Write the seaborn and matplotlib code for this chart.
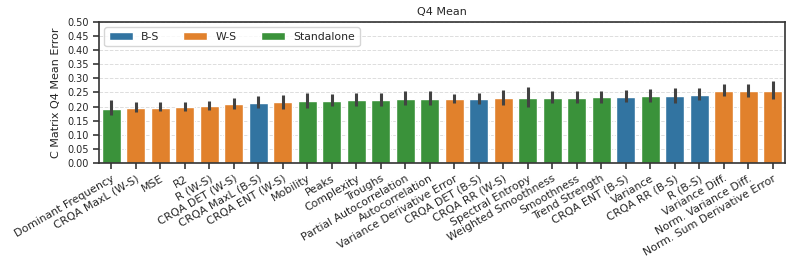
import numpy as np
import pandas as pd
import matplotlib
matplotlib.use('Agg')
import matplotlib.pyplot as plt
import seaborn as sns

# data
features = ['Dominant Frequency', 'CRQA MaxL (W-S)', 'MSE', 'R2', 'R (W-S)',
            'CRQA DET (W-S)', 'CRQA MaxL (B-S)', 'CRQA ENT (W-S)', 'Mobility',
            'Peaks', 'Complexity', 'Troughs', 'Partial Autocorrelation',
            'Autocorrelation', 'Variance Derivative Error', 'CRQA DET (B-S)',
            'CRQA RR (W-S)', 'Spectral Entropy', 'Weighted Smoothness',
            'Smoothness', 'Trend Strength', 'CRQA ENT (B-S)', 'Variance',
            'CRQA RR (B-S)', 'R (B-S)', 'Variance Diff.', 'Norm. Variance Diff.',
            'Norm. Sum Derivative Error']
groups = ['Standalone', 'W-S', 'W-S', 'W-S', 'W-S',
          'W-S', 'B-S', 'W-S', 'Standalone',
          'Standalone', 'Standalone', 'Standalone', 'Standalone',
          'Standalone', 'W-S', 'B-S',
          'W-S', 'Standalone', 'Standalone',
          'Standalone', 'Standalone', 'B-S', 'Standalone',
          'B-S', 'B-S', 'W-S', 'W-S',
          'W-S']
mean_err = [0.193, 0.195, 0.196, 0.199, 0.202, 0.209, 0.214, 0.215, 0.219,
            0.221, 0.2225, 0.2225, 0.227, 0.227, 0.227, 0.2285, 0.2296, 0.231,
            0.232, 0.232, 0.2345, 0.2345, 0.237, 0.237, 0.2415, 0.2535, 0.2546,
            0.257]
ci_low = [0.169, 0.181, 0.183, 0.184, 0.189, 0.191, 0.194, 0.193, 0.196,
          0.202, 0.2035, 0.2035, 0.2045, 0.2057, 0.213, 0.208, 0.2046, 0.200,
          0.211, 0.211, 0.213, 0.2165, 0.2155, 0.212, 0.2225, 0.237, 0.233,
          0.226]
ci_high = [0.225, 0.218, 0.2165, 0.218, 0.219, 0.231, 0.239, 0.241, 0.249,
           0.246, 0.249, 0.2475, 0.256, 0.256, 0.246, 0.249, 0.259, 0.268,
           0.257, 0.257, 0.257, 0.258, 0.261, 0.265, 0.265, 0.2785, 0.2796,
           0.291]

df = pd.DataFrame({'feature': features, 'group': groups, 'value': mean_err,
                   'lo': ci_low, 'hi': ci_high})

sns.set_style('ticks')
plt.rcParams['font.family'] = ['DejaVu Sans']
plt.rcParams['axes.edgecolor'] = '#333333'
plt.rcParams['axes.linewidth'] = 1.2

pal = dict(zip(['B-S', 'W-S', 'Standalone'], sns.color_palette('tab10', 3)))

fig, ax = plt.subplots(figsize=(7.92, 2.65), dpi=100)
ax.set_axisbelow(True)
ax.yaxis.grid(True, linestyle='--', color='#dddddd', linewidth=0.7)

sns.barplot(data=df, x='feature', y='value', hue='group',
            hue_order=['B-S', 'W-S', 'Standalone'], palette=pal,
            dodge=False, errorbar=None, width=0.78, ax=ax)

x = np.arange(len(df))
ax.errorbar(x, df['value'], yerr=[df['value'] - df['lo'], df['hi'] - df['value']],
            fmt='none', ecolor='#424242', elinewidth=2.2, capsize=0, zorder=5)

ax.set_ylim(0, 0.5)
ax.set_yticks(np.arange(0, 0.51, 0.05))
ax.set_xlim(-0.5, len(df) - 0.5)
ax.set_title('Q4 Mean', fontsize=8, pad=5)
ax.set_xlabel('')
ax.set_ylabel('C Matrix Q4 Mean Error', fontsize=8)
ax.tick_params(axis='y', labelsize=7, width=1.1, length=4)
ax.tick_params(axis='x', labelsize=7.8, width=1.1, length=4)
plt.setp(ax.get_xticklabels(), rotation=30, ha='right', rotation_mode='anchor')
ax.legend(loc='upper left', ncol=3, fontsize=7.8, title=None, frameon=True,
          columnspacing=2.2, handlelength=2.2)

fig.subplots_adjust(left=0.125, right=0.991, top=0.917, bottom=0.385)
fig.savefig('out.png', dpi=100)
